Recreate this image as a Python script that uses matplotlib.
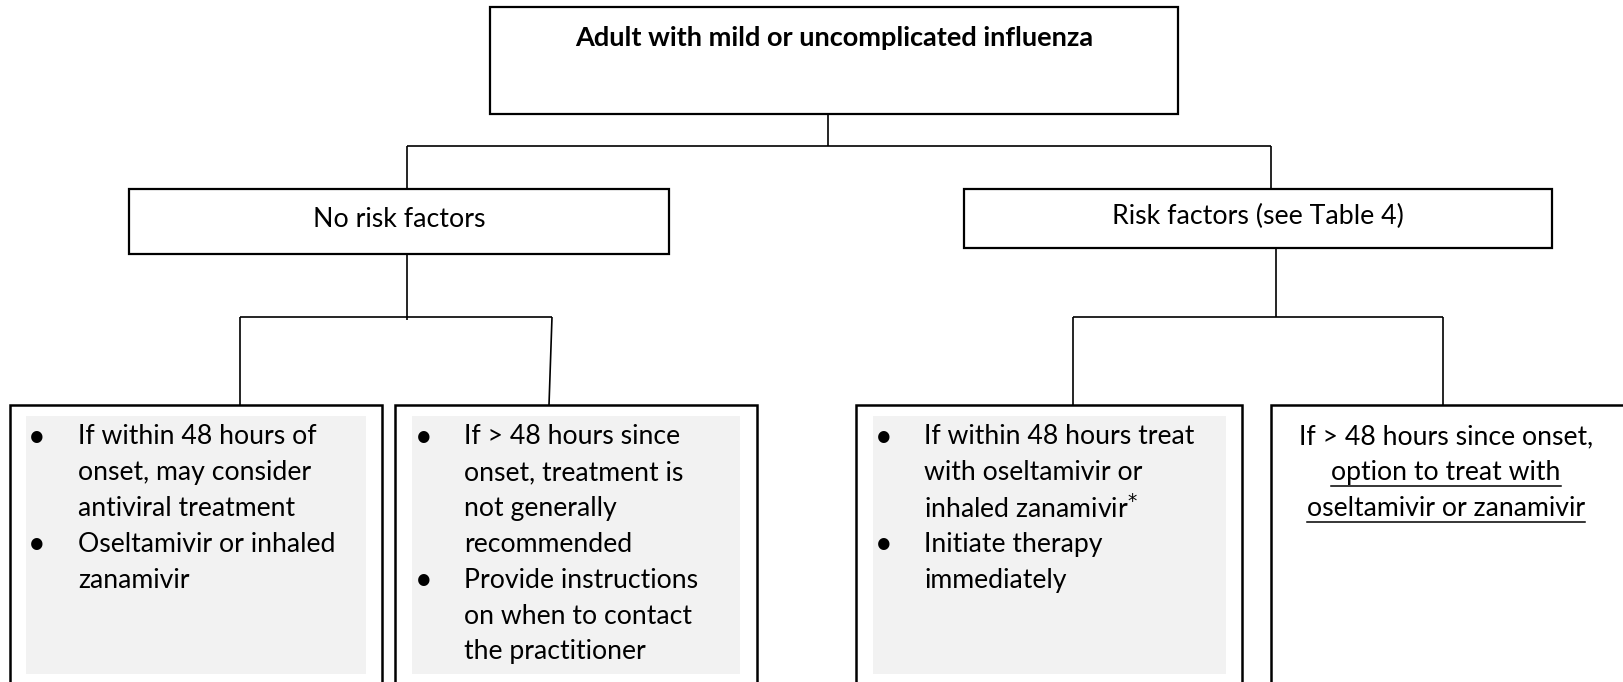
import matplotlib.pyplot as plt
from matplotlib.patches import Rectangle

plt.rcParams['font.family'] = ['Lato', 'DejaVu Sans']

W, H = 1623, 682

# boxes: (left, top, right, bottom) in pixel space
top_box = (490, 7, 1178, 114)
mid_boxes = [(129, 189, 669, 254), (964, 189, 1552, 248)]
mid_labels = ["No risk factors", "Risk factors (see Table 4)"]
title = "Adult with mild or uncomplicated influenza"

bottom_boxes = [(10, 405, 382, 700), (395, 405, 757, 700),
                (856, 405, 1242, 700), (1271, 405, 1640, 700)]
shade_boxes = [(26, 416, 366, 674), (412, 416, 740, 674),
               (873, 416, 1226, 674), None]

box1 = [["If within 48 hours of", "onset, may consider", "antiviral treatment"],
        ["Oseltamivir or inhaled", "zanamivir"]]
box2 = [["If > 48 hours since", "onset, treatment is", "not generally", "recommended"],
        ["Provide instructions", "on when to contact", "the practitioner"]]
box3 = [["If within 48 hours treat", "with oseltamivir or", "inhaled zanamivir$^{*}$"],
        ["Initiate therapy", "immediately"]]
box4 = ["If > 48 hours since onset,", "option to treat with", "oseltamivir or zanamivir"]
box4_underlined = [False, True, True]

fig = plt.figure(figsize=(W / 100, H / 100), dpi=100)
ax = fig.add_axes([0, 0, 1, 1])
ax.set_xlim(0, W)
ax.set_ylim(H, 0)
ax.axis('off')


def box(b, lw=1.6, fc='white'):
    x0, y0, x1, y1 = b
    ax.add_patch(Rectangle((x0, y0), x1 - x0, y1 - y0, fill=True, fc=fc,
                           ec='black', lw=lw, zorder=2))


def line(xs, ys):
    ax.plot(xs, ys, color='black', lw=1.2, zorder=1, solid_capstyle='butt')


# connectors
line([828, 828], [114, 146])
line([407, 1271], [146, 146])
line([407, 407], [146, 189])
line([1271, 1271], [146, 189])
line([407, 407], [248, 320])
line([240, 552], [317, 317])
line([240, 240], [317, 405])
line([552, 549], [317, 405])
line([1276, 1276], [246, 317])
line([1073, 1443], [317, 317])
line([1073, 1073], [317, 405])
line([1443, 1443], [317, 405])

box(top_box)
ax.text((top_box[0] + top_box[2]) / 2, 38, title, ha='center', va='center',
        fontsize=19.5, fontweight='bold', zorder=3)

for b, lab in zip(mid_boxes, mid_labels):
    box(b)
    ax.text((b[0] + b[2]) / 2, (b[1] + b[3]) / 2 - 2, lab, ha='center',
            va='center', fontsize=19.3, zorder=3)

for b, s in zip(bottom_boxes, shade_boxes):
    box(b, lw=1.8)
    if s:
        ax.add_patch(Rectangle((s[0], s[1]), s[2] - s[0], s[3] - s[1],
                               fc='#f2f2f2', ec='none', zorder=2.5))

LINE_Y0, DY = 437, 35.8
FS = 19.2
bullet_x = [37, 424, 884]
text_x = [78, 464, 924]
for bx, tx, items in zip(bullet_x, text_x, [box1, box2, box3]):
    row = 0
    for item in items:
        ax.text(bx, LINE_Y0 + row * DY, "\u2022", ha='center', va='center',
                fontsize=22, zorder=3)
        for ln in item:
            ax.text(tx, LINE_Y0 + row * DY, ln, ha='left', va='center',
                    fontsize=FS, zorder=3)
            row += 1

fig.canvas.draw()
renderer = fig.canvas.get_renderer()
cx = 1446
for i, (ln, ul) in enumerate(zip(box4, box4_underlined)):
    y = LINE_Y0 + i * DY
    t = ax.text(cx, y, ln, ha='center', va='center', fontsize=FS, zorder=3)
    if ul:
        bb = t.get_window_extent(renderer).transformed(ax.transData.inverted())
        x0, x1 = min(bb.x0, bb.x1), max(bb.x0, bb.x1)
        ax.plot([x0, x1], [y + 13, y + 13], color='black', lw=1.1, zorder=3)

fig.savefig('out.png', dpi=100)
